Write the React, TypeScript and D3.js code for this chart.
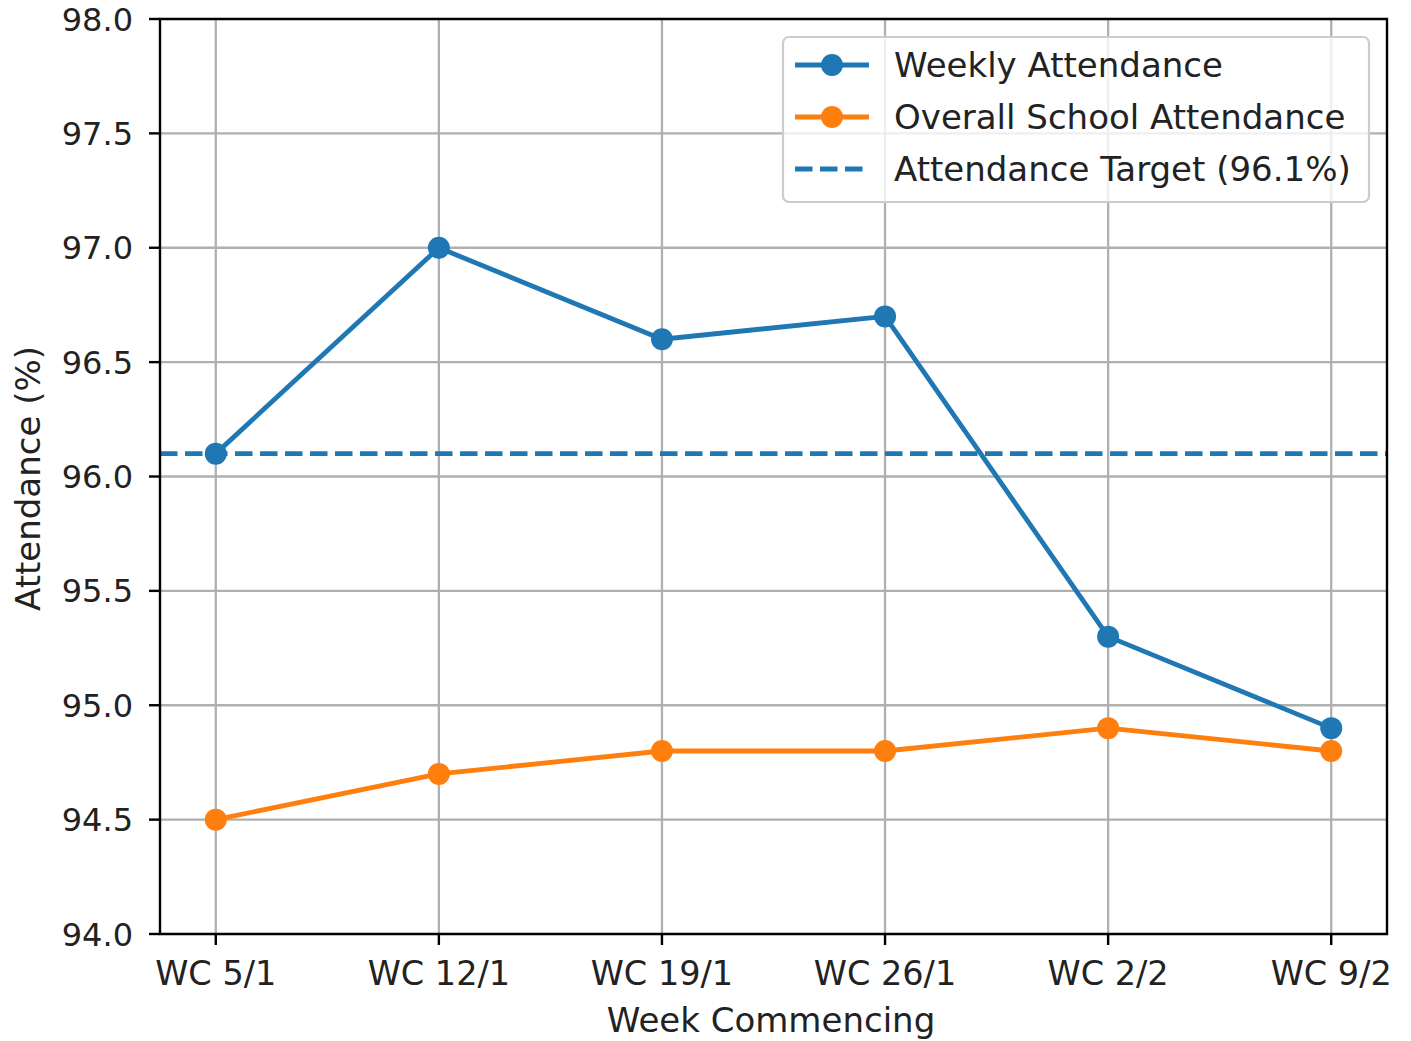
import React from "react";
import * as d3 from "d3";

const weeks = ["WC 5/1", "WC 12/1", "WC 19/1", "WC 26/1", "WC 2/2", "WC 9/2"];
const weeklyAttendance = [96.1, 97.0, 96.6, 96.7, 95.3, 94.9];
const overallAttendance = [94.5, 94.7, 94.8, 94.8, 94.9, 94.8];
const targetValue = 96.1;
const yTicks = [94.0, 94.5, 95.0, 95.5, 96.0, 96.5, 97.0, 97.5, 98.0];
const legendLabels = ["Weekly Attendance", "Overall School Attendance", "Attendance Target (96.1%)"];

const BLUE = "#1f77b4";
const ORANGE = "#ff7f0e";
const FONT = "DejaVu Sans, sans-serif";

export default function App() {
  const W = 1411, H = 1041;
  const left = 160, right = 1387, top = 19, bottom = 934;
  const x = d3.scaleLinear().domain([-0.25, 5.25]).range([left, right]);
  const y = d3.scaleLinear().domain([94, 98]).range([bottom, top]);
  const line = d3.line<number>().x((_, i) => x(i)).y((d) => y(d));
  const lw = 4.8;
  const r = 11;

  return (
    <svg width={W} height={H} style={{ position: "absolute", left: 0, top: 0 }} fontFamily={FONT}>
      <rect x={0} y={0} width={W} height={H} fill="white" />
      <defs>
        <clipPath id="plotclip">
          <rect x={left} y={top} width={right - left} height={bottom - top} />
        </clipPath>
      </defs>
      {/* grid */}
      {weeks.map((_, i) => (
        <line key={"gx" + i} x1={x(i)} x2={x(i)} y1={top} y2={bottom} stroke="#b0b0b0" strokeWidth={2.3} />
      ))}
      {yTicks.map((t) => (
        <line key={"gy" + t} x1={left} x2={right} y1={y(t)} y2={y(t)} stroke="#b0b0b0" strokeWidth={2.3} />
      ))}
      <g clipPath="url(#plotclip)">
        <line x1={left} x2={right} y1={y(targetValue)} y2={y(targetValue)} stroke={BLUE} strokeWidth={lw} strokeDasharray="17.5,7.5" />
        <path d={line(weeklyAttendance) || ""} fill="none" stroke={BLUE} strokeWidth={lw} strokeLinejoin="round" />
        <path d={line(overallAttendance) || ""} fill="none" stroke={ORANGE} strokeWidth={lw} strokeLinejoin="round" />
      </g>
      {weeklyAttendance.map((v, i) => (
        <circle key={"wm" + i} cx={x(i)} cy={y(v)} r={r} fill={BLUE} />
      ))}
      {overallAttendance.map((v, i) => (
        <circle key={"om" + i} cx={x(i)} cy={y(v)} r={r} fill={ORANGE} />
      ))}
      {/* axes frame */}
      <rect x={left} y={top} width={right - left} height={bottom - top} fill="none" stroke="black" strokeWidth={2.4} />
      {/* y ticks */}
      {yTicks.map((t) => (
        <g key={"yt" + t}>
          <line x1={left - 11} x2={left} y1={y(t)} y2={y(t)} stroke="black" strokeWidth={2.4} />
          <text x={133} y={y(t)} dy="0.36em" textAnchor="end" fontSize={32} fill="#222">
            {t.toFixed(1)}
          </text>
        </g>
      ))}
      {/* x ticks */}
      {weeks.map((w, i) => (
        <g key={"xt" + i}>
          <line x1={x(i)} x2={x(i)} y1={bottom} y2={bottom + 11} stroke="black" strokeWidth={2.4} />
          <text x={x(i)} y={985} textAnchor="middle" fontSize={33.5} fill="#222">
            {w}
          </text>
        </g>
      ))}
      {/* axis labels */}
      <text x={771} y={1032} textAnchor="middle" fontSize={34} fill="#222">Week Commencing</text>
      <text transform={`translate(40,${(347 + 610) / 2}) rotate(-90)`} textAnchor="middle" fontSize={34} fill="#222">
        Attendance (%)
      </text>
      {/* legend */}
      <g>
        <rect x={783} y={37} width={586} height={165} rx={6} fill="white" fillOpacity={0.8} stroke="#cccccc" strokeWidth={2.2} />
        {legendLabels.map((lab, i) => {
          const ly = 65 + i * 52;
          const color = i === 1 ? ORANGE : BLUE;
          return (
            <g key={"lg" + i}>
              {i < 2 ? (
                <>
                  <line x1={795} x2={869} y1={ly} y2={ly} stroke={color} strokeWidth={lw} />
                  <circle cx={832} cy={ly} r={r} fill={color} />
                </>
              ) : (
                <line x1={795} x2={869} y1={ly} y2={ly} stroke={color} strokeWidth={lw} strokeDasharray="17.5,7.5" />
              )}
              <text x={894} y={ly} dy="0.36em" fontSize={34} fill="#222">
                {lab}
              </text>
            </g>
          );
        })}
      </g>
    </svg>
  );
}
